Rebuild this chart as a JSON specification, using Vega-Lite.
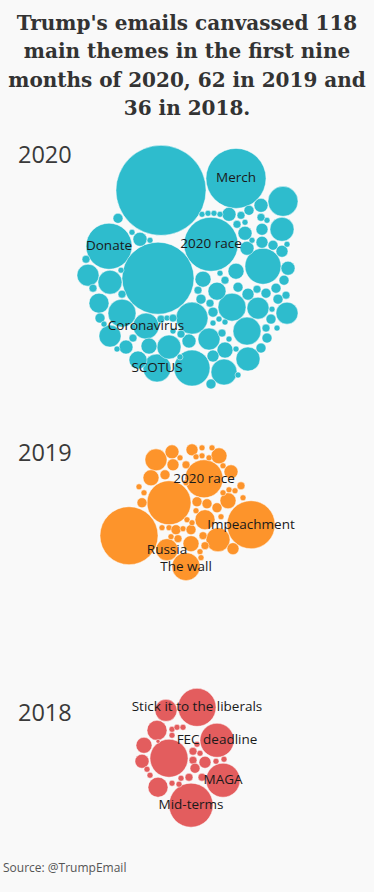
{
  "$schema": "https://vega.github.io/schema/vega-lite/v6.json",
  "width": 374,
  "height": 892,
  "autosize": {"type": "fit", "contains": "padding"},
  "padding": {"top": 13, "left": 0, "right": 0, "bottom": 0},
  "background": "#f9f9f9",
  "config": {"view": {"stroke": null}},
  "title": {
    "text": ["Trump's emails canvassed 118", "main themes in the first nine", "months of 2020, 62 in 2019 and", "36  in 2018."],
    "font": "DejaVu Serif",
    "fontSize": 20,
    "lineHeight": 28.5,
    "fontWeight": "bold",
    "color": "#333333",
    "anchor": "middle",
    "frame": "group",
    "offset": 6
  },
  "datasets": {
    "bubbles": [
      {"yr": "2020", "x": 161, "y": 189, "r": 45},
      {"yr": "2020", "x": 236, "y": 177, "r": 30, "label": "Merch"},
      {"yr": "2020", "x": 211, "y": 243, "r": 27, "label": "2020 race"},
      {"yr": "2020", "x": 109, "y": 245, "r": 23, "label": "Donate"},
      {"yr": "2020", "x": 158, "y": 277, "r": 36},
      {"yr": "2020", "x": 146, "y": 325, "r": 13, "label": "Coronavirus"},
      {"yr": "2020", "x": 157, "y": 367, "r": 14, "label": "SCOTUS"},
      {"yr": "2020", "x": 263, "y": 265, "r": 18},
      {"yr": "2020", "x": 283, "y": 200, "r": 15},
      {"yr": "2020", "x": 282, "y": 228, "r": 12},
      {"yr": "2020", "x": 192, "y": 367, "r": 18},
      {"yr": "2020", "x": 224, "y": 371, "r": 13},
      {"yr": "2020", "x": 248, "y": 358, "r": 12},
      {"yr": "2020", "x": 247, "y": 330, "r": 14},
      {"yr": "2020", "x": 232, "y": 306, "r": 14},
      {"yr": "2020", "x": 258, "y": 307, "r": 11},
      {"yr": "2020", "x": 287, "y": 312, "r": 11},
      {"yr": "2020", "x": 192, "y": 317, "r": 16},
      {"yr": "2020", "x": 209, "y": 338, "r": 11},
      {"yr": "2020", "x": 122, "y": 312, "r": 14},
      {"yr": "2020", "x": 110, "y": 335, "r": 11},
      {"yr": "2020", "x": 99, "y": 302, "r": 10},
      {"yr": "2020", "x": 110, "y": 281, "r": 12},
      {"yr": "2020", "x": 88, "y": 274, "r": 11},
      {"yr": "2020", "x": 169, "y": 346, "r": 12},
      {"yr": "2020", "x": 138, "y": 359, "r": 9},
      {"yr": "2020", "x": 149, "y": 345, "r": 8},
      {"yr": "2020", "x": 126, "y": 346, "r": 7},
      {"yr": "2020", "x": 189, "y": 340, "r": 7},
      {"yr": "2020", "x": 225, "y": 349, "r": 8},
      {"yr": "2020", "x": 236, "y": 270, "r": 8},
      {"yr": "2020", "x": 203, "y": 278, "r": 8},
      {"yr": "2020", "x": 217, "y": 290, "r": 9},
      {"yr": "2020", "x": 261, "y": 204, "r": 7},
      {"yr": "2020", "x": 229, "y": 213, "r": 7},
      {"yr": "2020", "x": 245, "y": 232, "r": 7},
      {"yr": "2020", "x": 247, "y": 247, "r": 7},
      {"yr": "2020", "x": 140, "y": 238, "r": 7},
      {"yr": "2020", "x": 288, "y": 267, "r": 7},
      {"yr": "2020", "x": 262, "y": 228, "r": 6},
      {"yr": "2020", "x": 262, "y": 241, "r": 6},
      {"yr": "2020", "x": 284, "y": 279, "r": 5},
      {"yr": "2020", "x": 276, "y": 287, "r": 5},
      {"yr": "2020", "x": 266, "y": 292, "r": 5},
      {"yr": "2020", "x": 278, "y": 298, "r": 5},
      {"yr": "2020", "x": 248, "y": 293, "r": 6},
      {"yr": "2020", "x": 238, "y": 286, "r": 5},
      {"yr": "2020", "x": 257, "y": 288, "r": 4},
      {"yr": "2020", "x": 286, "y": 294, "r": 4},
      {"yr": "2020", "x": 273, "y": 244, "r": 5},
      {"yr": "2020", "x": 282, "y": 250, "r": 6},
      {"yr": "2020", "x": 271, "y": 318, "r": 5},
      {"yr": "2020", "x": 266, "y": 327, "r": 4},
      {"yr": "2020", "x": 267, "y": 337, "r": 5},
      {"yr": "2020", "x": 261, "y": 347, "r": 5},
      {"yr": "2020", "x": 213, "y": 355, "r": 6},
      {"yr": "2020", "x": 211, "y": 383, "r": 5},
      {"yr": "2020", "x": 118, "y": 217, "r": 5},
      {"yr": "2020", "x": 100, "y": 317, "r": 5},
      {"yr": "2020", "x": 133, "y": 337, "r": 4},
      {"yr": "2020", "x": 93, "y": 287, "r": 4},
      {"yr": "2020", "x": 86, "y": 258, "r": 4},
      {"yr": "2020", "x": 122, "y": 293, "r": 4},
      {"yr": "2020", "x": 117, "y": 348, "r": 3},
      {"yr": "2020", "x": 132, "y": 231, "r": 3},
      {"yr": "2020", "x": 150, "y": 239, "r": 3},
      {"yr": "2020", "x": 121, "y": 269, "r": 3},
      {"yr": "2020", "x": 202, "y": 213, "r": 3},
      {"yr": "2020", "x": 208, "y": 212, "r": 3},
      {"yr": "2020", "x": 214, "y": 212, "r": 3},
      {"yr": "2020", "x": 220, "y": 213, "r": 3},
      {"yr": "2020", "x": 241, "y": 214, "r": 4},
      {"yr": "2020", "x": 249, "y": 209, "r": 5},
      {"yr": "2020", "x": 261, "y": 216, "r": 4},
      {"yr": "2020", "x": 267, "y": 219, "r": 3},
      {"yr": "2020", "x": 237, "y": 223, "r": 4},
      {"yr": "2020", "x": 245, "y": 221, "r": 3},
      {"yr": "2020", "x": 252, "y": 239, "r": 3},
      {"yr": "2020", "x": 287, "y": 243, "r": 3},
      {"yr": "2020", "x": 225, "y": 279, "r": 4},
      {"yr": "2020", "x": 220, "y": 272, "r": 3},
      {"yr": "2020", "x": 198, "y": 289, "r": 4},
      {"yr": "2020", "x": 201, "y": 298, "r": 5},
      {"yr": "2020", "x": 210, "y": 302, "r": 4},
      {"yr": "2020", "x": 213, "y": 311, "r": 5},
      {"yr": "2020", "x": 272, "y": 308, "r": 3},
      {"yr": "2020", "x": 219, "y": 318, "r": 3},
      {"yr": "2020", "x": 213, "y": 322, "r": 3},
      {"yr": "2020", "x": 222, "y": 332, "r": 4},
      {"yr": "2020", "x": 229, "y": 338, "r": 3},
      {"yr": "2020", "x": 236, "y": 348, "r": 3},
      {"yr": "2020", "x": 161, "y": 318, "r": 4},
      {"yr": "2020", "x": 167, "y": 317, "r": 3},
      {"yr": "2020", "x": 173, "y": 317, "r": 4},
      {"yr": "2020", "x": 181, "y": 333, "r": 4},
      {"yr": "2020", "x": 173, "y": 330, "r": 3},
      {"yr": "2020", "x": 225, "y": 321, "r": 3},
      {"yr": "2020", "x": 104, "y": 323, "r": 3},
      {"yr": "2020", "x": 133, "y": 326, "r": 3},
      {"yr": "2020", "x": 180, "y": 356, "r": 3},
      {"yr": "2020", "x": 238, "y": 374, "r": 3},
      {"yr": "2020", "x": 277, "y": 327, "r": 3},
      {"yr": "2019", "x": 129, "y": 535, "r": 29},
      {"yr": "2019", "x": 251, "y": 524, "r": 24, "label": "Impeachment"},
      {"yr": "2019", "x": 169, "y": 502, "r": 22},
      {"yr": "2019", "x": 204, "y": 478, "r": 19, "label": "2020 race"},
      {"yr": "2019", "x": 186, "y": 566, "r": 14, "label": "The wall"},
      {"yr": "2019", "x": 167, "y": 549, "r": 11, "label": "Russia"},
      {"yr": "2019", "x": 218, "y": 539, "r": 12},
      {"yr": "2019", "x": 205, "y": 519, "r": 10},
      {"yr": "2019", "x": 191, "y": 543, "r": 8},
      {"yr": "2019", "x": 156, "y": 459, "r": 11},
      {"yr": "2019", "x": 151, "y": 477, "r": 8},
      {"yr": "2019", "x": 172, "y": 451, "r": 7},
      {"yr": "2019", "x": 192, "y": 449, "r": 6},
      {"yr": "2019", "x": 219, "y": 455, "r": 8},
      {"yr": "2019", "x": 231, "y": 471, "r": 7},
      {"yr": "2019", "x": 228, "y": 500, "r": 8},
      {"yr": "2019", "x": 233, "y": 548, "r": 6},
      {"yr": "2019", "x": 142, "y": 502, "r": 5},
      {"yr": "2019", "x": 144, "y": 492, "r": 3},
      {"yr": "2019", "x": 173, "y": 464, "r": 6},
      {"yr": "2019", "x": 165, "y": 474, "r": 5},
      {"yr": "2019", "x": 180, "y": 457, "r": 3},
      {"yr": "2019", "x": 186, "y": 464, "r": 4},
      {"yr": "2019", "x": 202, "y": 447, "r": 3},
      {"yr": "2019", "x": 202, "y": 455, "r": 3},
      {"yr": "2019", "x": 209, "y": 457, "r": 3},
      {"yr": "2019", "x": 196, "y": 456, "r": 3},
      {"yr": "2019", "x": 197, "y": 501, "r": 5},
      {"yr": "2019", "x": 207, "y": 503, "r": 5},
      {"yr": "2019", "x": 217, "y": 507, "r": 5},
      {"yr": "2019", "x": 196, "y": 510, "r": 3},
      {"yr": "2019", "x": 223, "y": 492, "r": 3},
      {"yr": "2019", "x": 229, "y": 489, "r": 3},
      {"yr": "2019", "x": 235, "y": 490, "r": 3},
      {"yr": "2019", "x": 241, "y": 485, "r": 4},
      {"yr": "2019", "x": 243, "y": 497, "r": 3},
      {"yr": "2019", "x": 223, "y": 465, "r": 3},
      {"yr": "2019", "x": 162, "y": 527, "r": 3},
      {"yr": "2019", "x": 169, "y": 527, "r": 3},
      {"yr": "2019", "x": 176, "y": 529, "r": 5},
      {"yr": "2019", "x": 183, "y": 528, "r": 3},
      {"yr": "2019", "x": 191, "y": 529, "r": 5},
      {"yr": "2019", "x": 178, "y": 538, "r": 4},
      {"yr": "2019", "x": 171, "y": 536, "r": 3},
      {"yr": "2019", "x": 203, "y": 535, "r": 4},
      {"yr": "2019", "x": 205, "y": 545, "r": 4},
      {"yr": "2019", "x": 200, "y": 551, "r": 3},
      {"yr": "2019", "x": 201, "y": 557, "r": 3},
      {"yr": "2019", "x": 221, "y": 516, "r": 3},
      {"yr": "2019", "x": 187, "y": 519, "r": 3},
      {"yr": "2019", "x": 192, "y": 522, "r": 3},
      {"yr": "2019", "x": 186, "y": 482, "r": 3},
      {"yr": "2019", "x": 139, "y": 486, "r": 3},
      {"yr": "2019", "x": 212, "y": 447, "r": 3},
      {"yr": "2018", "x": 191, "y": 805, "r": 22, "label": "Mid-terms"},
      {"yr": "2018", "x": 223, "y": 780, "r": 17, "label": "MAGA"},
      {"yr": "2018", "x": 217, "y": 740, "r": 17, "label": "FEC deadline"},
      {"yr": "2018", "x": 197, "y": 707, "r": 19, "label": "Stick it to the liberals"},
      {"yr": "2018", "x": 169, "y": 758, "r": 19},
      {"yr": "2018", "x": 166, "y": 710, "r": 11},
      {"yr": "2018", "x": 157, "y": 730, "r": 10},
      {"yr": "2018", "x": 144, "y": 745, "r": 8},
      {"yr": "2018", "x": 142, "y": 761, "r": 7},
      {"yr": "2018", "x": 158, "y": 787, "r": 10},
      {"yr": "2018", "x": 150, "y": 775, "r": 3},
      {"yr": "2018", "x": 147, "y": 769, "r": 3},
      {"yr": "2018", "x": 172, "y": 729, "r": 3},
      {"yr": "2018", "x": 177, "y": 727, "r": 3},
      {"yr": "2018", "x": 183, "y": 727, "r": 3},
      {"yr": "2018", "x": 172, "y": 735, "r": 3},
      {"yr": "2018", "x": 193, "y": 751, "r": 4},
      {"yr": "2018", "x": 200, "y": 753, "r": 3},
      {"yr": "2018", "x": 193, "y": 760, "r": 4},
      {"yr": "2018", "x": 205, "y": 762, "r": 6},
      {"yr": "2018", "x": 195, "y": 768, "r": 5},
      {"yr": "2018", "x": 202, "y": 777, "r": 4},
      {"yr": "2018", "x": 189, "y": 777, "r": 4},
      {"yr": "2018", "x": 181, "y": 778, "r": 3},
      {"yr": "2018", "x": 172, "y": 783, "r": 3},
      {"yr": "2018", "x": 179, "y": 784, "r": 3},
      {"yr": "2018", "x": 216, "y": 761, "r": 3},
      {"yr": "2018", "x": 224, "y": 759, "r": 3},
      {"yr": "2018", "x": 197, "y": 744, "r": 3},
      {"yr": "2018", "x": 158, "y": 741, "r": 2}
    ],
    "years": [
      {"year": "2020", "y": 155},
      {"year": "2019", "y": 453},
      {"year": "2018", "y": 714}
    ],
    "notes": [
      {"note": "Source: @TrumpEmail", "y": 868}
    ]
  },
  "layer": [
    {
      "data": {"name": "bubbles"},
      "mark": {"type": "circle", "opacity": 1, "stroke": "#ffffff", "strokeWidth": 0.6, "strokeOpacity": 0.8},
      "encoding": {
        "x": {"field": "x", "type": "quantitative", "scale": {"domain": [0, 374], "nice": false, "zero": false}, "axis": null},
        "y": {"field": "y", "type": "quantitative", "scale": {"domain": [123.5, 892], "nice": false, "zero": false, "reverse": true}, "axis": null},
        "size": {"field": "r", "type": "quantitative", "scale": {"type": "pow", "exponent": 2, "domain": [0, 50], "range": [0, 10000]}, "legend": null},
        "color": {"field": "yr", "type": "nominal", "scale": {"domain": ["2020", "2019", "2018"], "range": ["#2ebccd", "#fd942b", "#e35d5e"]}, "legend": null}
      }
    },
    {
      "data": {"name": "bubbles"},
      "transform": [{"filter": "isValid(datum.label)"}],
      "mark": {"type": "text", "font": "Open Sans", "fontSize": 13.5, "color": "#1a1a1a", "align": "center", "baseline": "middle"},
      "encoding": {
        "x": {"field": "x", "type": "quantitative", "axis": null},
        "y": {"field": "y", "type": "quantitative", "axis": null},
        "text": {"field": "label"}
      }
    },
    {
      "data": {"name": "years"},
      "mark": {"type": "text", "font": "Open Sans", "fontSize": 23.5, "color": "#3a3a3a", "align": "left", "baseline": "middle"},
      "encoding": {
        "x": {"datum": 18, "type": "quantitative"},
        "y": {"field": "y", "type": "quantitative", "axis": null},
        "text": {"field": "year"}
      }
    },
    {
      "data": {"name": "notes"},
      "mark": {"type": "text", "font": "Open Sans", "fontSize": 12, "color": "#555555", "align": "left", "baseline": "middle"},
      "encoding": {
        "x": {"datum": 3, "type": "quantitative"},
        "y": {"field": "y", "type": "quantitative", "axis": null},
        "text": {"field": "note"}
      }
    },
    {
      "mark": {"type": "rule", "color": "#eeeeee", "strokeWidth": 1},
      "encoding": {
        "y": {"datum": 880, "type": "quantitative"},
        "x": {"datum": 0, "type": "quantitative"},
        "x2": {"datum": 374}
      }
    }
  ]
}
